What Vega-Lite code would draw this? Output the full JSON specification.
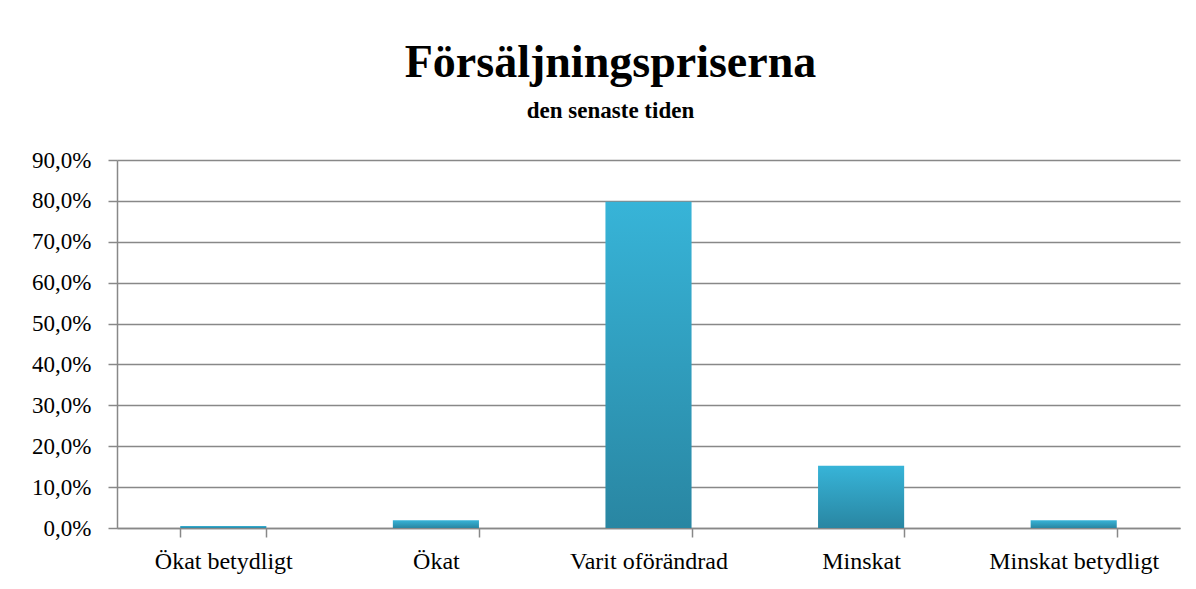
{
  "$schema": "https://vega.github.io/schema/vega-lite/v6.json",
  "width": 1063,
  "height": 368,
  "autosize": "none",
  "padding": {"left": 117, "top": 160, "right": 16, "bottom": 61},
  "background": "white",
  "title": {
    "text": "Försäljningspriserna",
    "subtitle": "den senaste tiden",
    "font": "Liberation Serif",
    "fontSize": 46,
    "fontWeight": "bold",
    "color": "black",
    "subtitleFont": "Liberation Serif",
    "subtitleFontSize": 23,
    "subtitleFontWeight": "bold",
    "subtitleColor": "black",
    "anchor": "middle",
    "dx": -38,
    "offset": 25,
    "subtitlePadding": 13
  },
  "data": {
    "values": [
      {"kategori": "Ökat betydligt", "andel": 0.005},
      {"kategori": "Ökat", "andel": 0.019},
      {"kategori": "Varit oförändrad", "andel": 0.798},
      {"kategori": "Minskat", "andel": 0.152},
      {"kategori": "Minskat betydligt", "andel": 0.019}
    ]
  },
  "mark": {
    "type": "bar",
    "color": {
      "gradient": "linear",
      "x1": 0, "y1": 0, "x2": 0, "y2": 1,
      "stops": [
        {"offset": 0, "color": "#37b4d8"},
        {"offset": 1, "color": "#2986a2"}
      ]
    }
  },
  "encoding": {
    "x": {
      "field": "kategori",
      "type": "nominal",
      "sort": null,
      "scale": {"paddingInner": 0.595, "paddingOuter": 0.2975},
      "axis": {
        "title": null,
        "labelAngle": 0,
        "tickBand": "extent",
        "tickSize": 9,
        "tickColor": "#888888",
        "tickWidth": 1.5,
        "domainColor": "#888888",
        "domainWidth": 1.5,
        "labelFont": "Liberation Serif",
        "labelFontSize": 24,
        "labelColor": "black",
        "labelPadding": 12,
        "grid": false
      }
    },
    "y": {
      "field": "andel",
      "type": "quantitative",
      "scale": {"domain": [0, 0.9], "nice": false},
      "axis": {
        "title": null,
        "values": [0, 0.1, 0.2, 0.3, 0.4, 0.5, 0.6, 0.7, 0.8, 0.9],
        "format": ".1%",
        "tickSize": 9,
        "tickColor": "#888888",
        "tickWidth": 1.5,
        "domainColor": "#888888",
        "domainWidth": 1.5,
        "gridColor": "#888888",
        "gridWidth": 1.5,
        "gridOpacity": 1,
        "labelFont": "Liberation Serif",
        "labelFontSize": 23,
        "labelColor": "black",
        "labelPadding": 17
      }
    }
  },
  "config": {
    "view": {"stroke": null},
    "locale": {
      "number": {
        "decimal": ",",
        "thousands": " ",
        "grouping": [3],
        "currency": ["", " kr"]
      }
    }
  }
}
